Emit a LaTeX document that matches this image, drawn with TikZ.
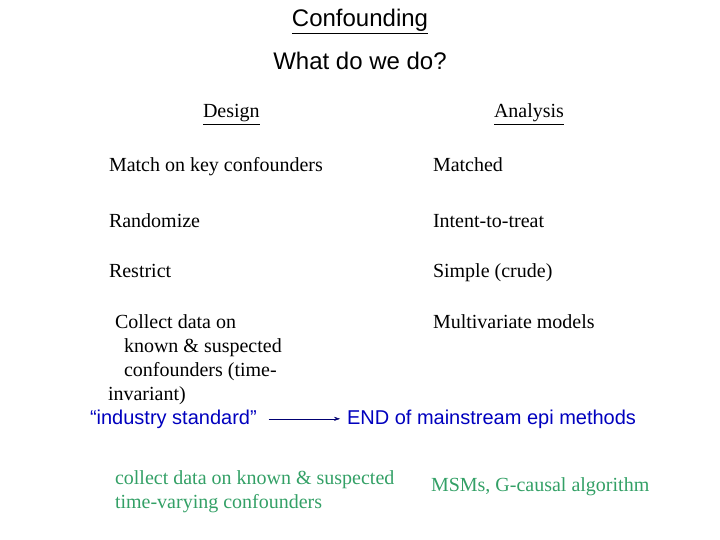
\documentclass[tikz,border=0pt]{standalone}
\usepackage{fontspec}
\setmainfont{Liberation Serif}
\newfontfamily\arialfont{Liberation Sans}
\usetikzlibrary{arrows.meta, positioning}

\definecolor{epiblue}{RGB}{0,0,190}
\definecolor{epigreen}{RGB}{51,160,102}

\begin{document}
\begin{tikzpicture}[
        x=1pt, y=-1pt,
        every node/.style={inner sep=0pt, outer sep=0pt, anchor=base west},
        heading/.style={font=\arialfont\fontsize{24}{28}\selectfont, anchor=base},
        body/.style={font=\fontsize{20}{24}\selectfont, align=left},
        bluetext/.style={font=\arialfont\fontsize{20}{24}\selectfont, text=epiblue},
        greentext/.style={body, text=epigreen}
    ]
    \useasboundingbox (0,0) rectangle (720,540);

    % Titles
    \node[heading] (title) at (360, 27) {\underline{Confounding}};
    \node[heading] (question) at (360, 70) {What do we do?};

    % Column heads
    \node[body] (design) at (203, 118) {\underline{Design}};
    \node[body] (analysis) at (494, 118) {\underline{Analysis}};

    % Rows
    \node[body] (match) at (109, 172) {Match on key confounders};
    \node[body] (matched) at (433, 172) {Matched};
    \node[body] (random) at (109, 227) {Randomize};
    \node[body] (itt) at (433, 227) {Intent-to-treat};
    \node[body] (restrict) at (109, 277) {Restrict};
    \node[body] (simple) at (433, 277) {Simple (crude)};

    % multi-line nodes sit on their last baseline
    \node[body] (collect) at (108, 400) {\hspace*{7pt}Collect data on\\
        \hspace*{16pt}known \& suspected\\
        \hspace*{16pt}confounders (time-\\
        invariant)};
    \node[body] (multi) at (433, 328) {Multivariate models};

    % Industry standard
    \node[bluetext] (industry) at (90, 424) {“industry standard”};
    \node[bluetext] (endepi) at (347, 424) {END of mainstream epi methods};
    \draw[epiblue!60!black, -{Stealth[length=6pt, width=4pt]}, shorten <=12pt, shorten >=7pt]
        (industry.east) -- (industry.east -| endepi.west);

    % Time-varying
    \node[greentext] (timevar) at (115, 508) {collect data on known \& suspected\\time-varying confounders};
    \node[greentext] (msm) at (431, 491) {MSMs, G-causal algorithm};

\end{tikzpicture}
\end{document}
